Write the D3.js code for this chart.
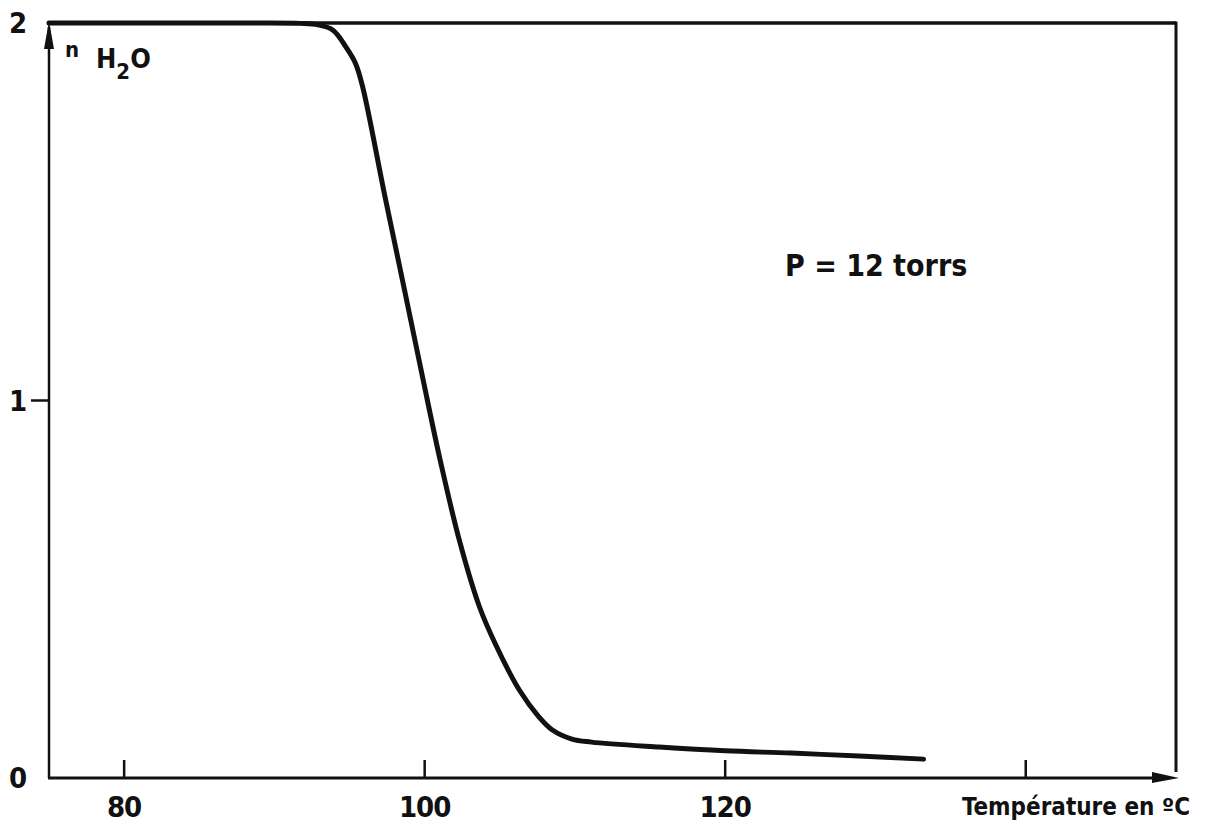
<!DOCTYPE html>
<html>
<head>
<meta charset="utf-8">
<script src="https://cdn.jsdelivr.net/npm/d3@7"></script>
<style>
  html, body { margin: 0; padding: 0; background: #fff; }
  svg text { font-family: "DejaVu Sans Condensed", "DejaVu Sans", sans-serif; font-weight: bold; fill: #111; }
</style>
</head>
<body>
<svg id="chart" width="1208" height="827"></svg>
<script>
// Dehydration curve: number of water molecules vs temperature at P = 12 torr
const temperature = [75, 88, 91.7, 92.9, 93.9, 94.8, 95.42, 95.89, 97.35, 98.7, 99.9, 101.06, 102.32, 103.65, 104.8, 106.3, 107.6, 108.5, 109.8, 111.1, 115.6, 120.0, 124.4, 128.9, 133.2];
const nWater      = [2.0, 2.0, 1.999, 1.995, 1.981, 1.934, 1.891, 1.828, 1.542, 1.285, 1.054, 0.837, 0.628, 0.453, 0.347, 0.233, 0.162, 0.127, 0.103, 0.095, 0.082, 0.072, 0.066, 0.058, 0.05];

const xTicks = [80, 100, 120, 140];
const xTickLabels = ["80", "100", "120", ""];
const yTicks = [0, 1, 2];
const yTickLabels = ["0", "1", "2"];

const margin = { left: 49, right: 1176, top: 23, bottom: 778 };

const x = d3.scaleLinear().domain([75, 150]).range([margin.left, margin.right]);
const y = d3.scaleLinear().domain([0, 2]).range([margin.bottom, margin.top]);

const svg = d3.select("#chart");

// Frame: top and right borders
svg.append("line")
  .attr("x1", x(75)).attr("x2", x(150)).attr("y1", y(2)).attr("y2", y(2))
  .attr("stroke", "#111").attr("stroke-width", 3.5);
svg.append("line")
  .attr("x1", x(150)).attr("x2", x(150)).attr("y1", y(2) - 1.5).attr("y2", y(0) - 6)
  .attr("stroke", "#111").attr("stroke-width", 3);

// Axes lines
svg.append("line")
  .attr("x1", x(75)).attr("x2", x(75)).attr("y1", y(0)).attr("y2", y(2) + 4)
  .attr("stroke", "#111").attr("stroke-width", 2.5);
svg.append("line")
  .attr("x1", x(75) - 1).attr("x2", x(150) - 10).attr("y1", y(0)).attr("y2", y(0))
  .attr("stroke", "#111").attr("stroke-width", 3);

// Arrowheads
svg.append("path")
  .attr("d", `M${x(75)},${y(2) - 2} L${x(75) - 5},${y(2) + 26} L${x(75) + 5},${y(2) + 26} Z`)
  .attr("fill", "#111");
svg.append("path")
  .attr("d", `M${x(150) + 3},${y(0)} L${x(150) - 24},${y(0) - 6} L${x(150) - 24},${y(0) + 5} Z`)
  .attr("fill", "#111");

// X ticks (inward) and labels
svg.selectAll(".xtick").data(xTicks).enter().append("line")
  .attr("x1", d => x(d)).attr("x2", d => x(d))
  .attr("y1", y(0)).attr("y2", y(0) - 18)
  .attr("stroke", "#111").attr("stroke-width", 2.5);
svg.selectAll(".xlab").data(xTicks).enter().append("text")
  .attr("x", d => x(d)).attr("y", 817)
  .attr("text-anchor", "middle")
  .attr("font-size", 29)
  .attr("letter-spacing", -1)
  .text((d, i) => xTickLabels[i]);

// Y ticks (outward at 1) and labels
svg.append("line")
  .attr("x1", x(75) - 18).attr("x2", x(75)).attr("y1", y(1)).attr("y2", y(1))
  .attr("stroke", "#111").attr("stroke-width", 2.5);
svg.selectAll(".ylab").data(yTicks).enter().append("text")
  .attr("x", 18).attr("y", d => y(d) + 10)
  .attr("text-anchor", "middle")
  .attr("font-size", 29)
  .text((d, i) => yTickLabels[i]);

// Axis titles
const yTitle = svg.append("text").attr("x", 65).attr("y", 57).attr("font-size", 22);
yTitle.append("tspan").text("n");
yTitle.append("tspan").attr("x", 96).attr("y", 68).attr("font-size", 27).text("H");
yTitle.append("tspan").attr("dy", 11).attr("font-size", 22).text("2");
yTitle.append("tspan").attr("dy", -11).attr("font-size", 27).text("O");

svg.append("text")
  .attr("x", 1190).attr("y", 815)
  .attr("text-anchor", "end")
  .attr("font-size", 24)
  .text("Température en ºC");

svg.append("text")
  .attr("x", 785).attr("y", 276)
  .attr("font-size", 30)
  .text("P = 12 torrs");

// Data curve
const line = d3.line()
  .x((d, i) => x(temperature[i]))
  .y(d => y(d))
  .curve(d3.curveCatmullRom.alpha(0.5));

svg.append("path")
  .datum(nWater)
  .attr("d", line)
  .attr("fill", "none")
  .attr("stroke", "#111")
  .attr("stroke-width", 5)
  .attr("stroke-linecap", "round");
</script>
</body>
</html>
